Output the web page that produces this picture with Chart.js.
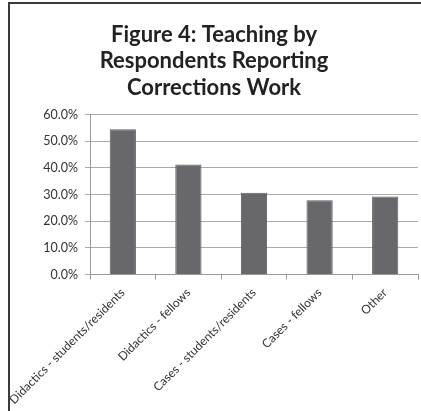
<!DOCTYPE html>
<html>
<head>
<meta charset="utf-8">
<script src="https://cdn.jsdelivr.net/npm/chart.js@4.4.1/dist/chart.umd.min.js"></script>
<style>
  html, body { margin: 0; padding: 0; background: #fff; overflow: hidden; }
  #frame {
    position: absolute; left: 8px; top: 2px; width: 419px; height: 420px;
    border-left: 2px solid #3a3a3a; border-top: 2px solid #3a3a3a;
  }
  #wrap { position: absolute; left: 10px; top: 4px; width: 411px; height: 407px; }
</style>
</head>
<body>
<div id="frame"></div>
<div id="wrap"><canvas id="teaching"></canvas></div>
<script>
var categories = ["Didactics - students/residents", "Didactics - fellows", "Cases - students/residents", "Cases - fellows", "Other"];
var percents = [54.5, 41.3, 30.7, 27.9, 29.3];
var yTicks = [0, 10, 20, 30, 40, 50, 60];

var ctx = document.getElementById("teaching").getContext('2d');
var myChart = new Chart(ctx, {
    type: 'bar',
    data: {
        labels: categories,
        datasets: [{
            label: 'Teaching',
            data: percents,
            backgroundColor: '#68686c',
            borderColor: '#5e5e62',
            borderWidth: 1,
            categoryPercentage: 1.0,
            barPercentage: 0.4
        }]
    },
    options: {
        responsive: true,
        maintainAspectRatio: false,
        animation: false,
        layout: { padding: { right: 3, left: 0, bottom: -2 } },
        plugins: {
            legend: { display: false },
            tooltip: { enabled: false },
            title: {
                display: true,
                text: ["Figure 4: Teaching by", "Respondents Reporting", "Corrections Work"],
                color: '#222',
                font: { family: 'Lato', size: 22, weight: 'bold', lineHeight: 1.22 },
                padding: { top: 17, bottom: 13 }
            }
        },
        scales: {
            x: {
                afterFit: function (scale) { scale.paddingLeft = 0; },
                grid: { drawOnChartArea: false, tickLength: 5, color: '#999' },
                border: { color: '#999' },
                ticks: {
                    color: '#333',
                    font: { family: 'Lato', size: 12 },
                    maxRotation: 45,
                    minRotation: 45,
                    padding: 6
                }
            },
            y: {
                min: 0,
                max: 60,
                afterBuildTicks: function (scale) {
                    scale.ticks = yTicks.map(function (v) { return { value: v }; });
                },
                afterFit: function (scale) { scale.width = 80; },
                grid: { color: '#aaa', tickLength: 5 },
                border: { color: '#999' },
                ticks: {
                    color: '#333',
                    font: { family: 'Lato', size: 12.5 },
                    padding: 7,
                    callback: function (v) { return v.toFixed(1) + '%'; }
                }
            }
        }
    }
});
</script>
</body>
</html>
